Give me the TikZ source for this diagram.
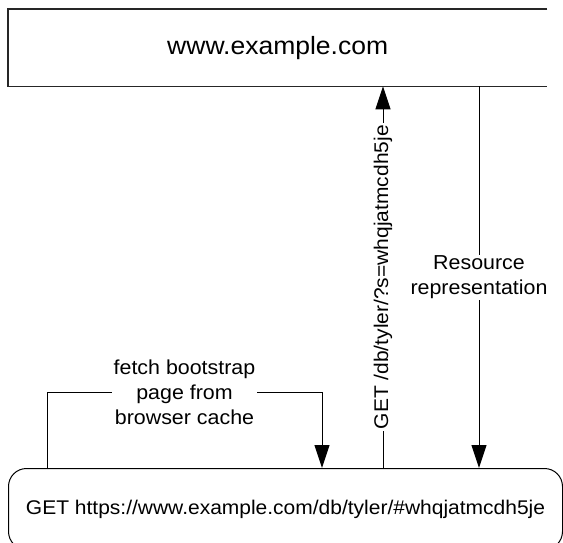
\documentclass[tikz,border=0pt]{standalone}
\usepackage{fontspec}
\setmainfont{Liberation Sans}[FakeStretch=1.06]
\usetikzlibrary{arrows.meta,calc}
\tikzset{
  conn/.style={line width=1pt, black},
  arr/.style={conn, -{Triangle[length=23pt,width=15pt]}},
  lbl/.style={fill=white, inner xsep=2pt, inner ysep=1pt, align=center,
              font=\fontsize{20.2}{25}\selectfont},
  boxline/.style={line width=1.2pt, black!85},
}
\begin{document}
\begin{tikzpicture}[x=1pt, y=-1pt]
\useasboundingbox (0,0) rectangle (563,543);
% server box (right side cut off in the reference)
\node[minimum width=539pt, minimum height=77pt, anchor=north west, inner sep=0pt,
      font=\fontsize{25}{30}\selectfont] (server) at (8,9) {www.example.com};
\draw[boxline] (server.north east) -- (server.north west) -- (server.south west) -- (server.south east);
% client box (bottom edge cut off in the reference)
\node[draw, line width=1pt, rounded corners=18pt, minimum width=554pt, minimum height=81pt,
      anchor=north west, inner sep=0pt, font=\fontsize{19.8}{25}\selectfont]
      (client) at (8,468) {\raisebox{3pt}{GET https://www.example.com/db/tyler/\#whqjatmcdh5je}};
% coordinates for connector positions
\coordinate (fL) at (47,392);
\coordinate (fR) at (322,392);
\coordinate (req) at (383,277);
\coordinate (resp) at (479,277);
% fetch from cache
\draw[arr] (client.north -| fL) -- (fL)
   -- node[lbl] {fetch bootstrap\\page from\\browser cache} (fR)
   -- (client.north -| fR);
% request
\draw[arr] (client.north -| req) -- node[lbl, rotate=90, font=\fontsize{19.8}{25}\selectfont] {GET /db/tyler/?s=whqjatmcdh5je} (server.south -| req);
% response
\draw[arr] (server.south -| resp) -- node[lbl] {Resource\\representation} (client.north -| resp);
\end{tikzpicture}
\end{document}
